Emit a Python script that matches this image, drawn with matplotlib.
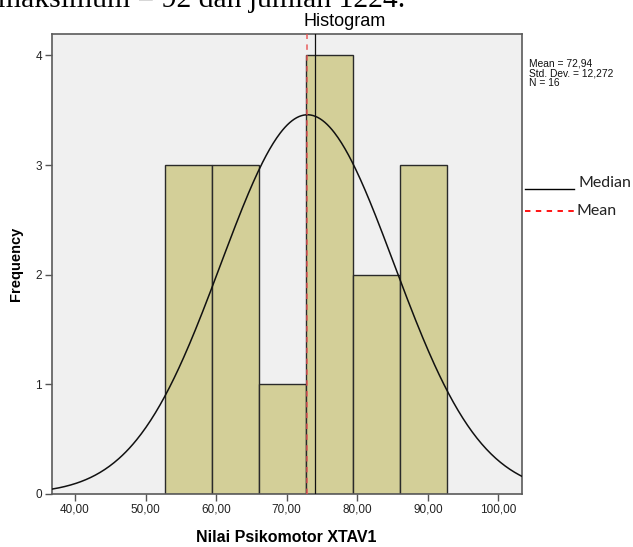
import matplotlib
matplotlib.use("Agg")
import matplotlib.pyplot as plt
import numpy as np
from matplotlib.lines import Line2D

plt.rcParams['font.family'] = ['Liberation Sans', 'DejaVu Sans']

bin_edges = [52.75, 59.4, 66.05, 72.7, 79.35, 86.0, 92.65]
counts = [3, 3, 1, 4, 2, 3]
mean = 72.94
std = 12.272
n = 16
median = 74.0
xticks = [40, 50, 60, 70, 80, 90, 100]
yticks = [0, 1, 2, 3, 4]

fig = plt.figure(figsize=(6.33, 5.47), dpi=100)
W, H = 633, 547

# zone du graphique en pixels -> fractions
left, right, top, bottom = 51.7, 521.7, 33.5, 494.0
ax = fig.add_axes([left / W, 1 - bottom / H, (right - left) / W, (bottom - top) / H])
ax.set_facecolor('#F0F0F0')

widths = np.diff(bin_edges)
ax.bar(bin_edges[:-1], counts, width=widths, align='edge',
       color='#D3CF98', edgecolor='#2a2a2a', linewidth=1.0, zorder=2)

# courbe normale
xlim = (36.7, 103.3)
xs = np.linspace(xlim[0], xlim[1], 400)
binw = widths.mean()
ys = n * binw * np.exp(-0.5 * ((xs - mean) / std) ** 2) / (std * np.sqrt(2 * np.pi))
ax.plot(xs, ys, color='#111111', lw=1.1, zorder=4)

# médiane et moyenne
ax.axvline(median, color='#111111', lw=0.9, zorder=5)
ax.axvline(mean, color='#E85555', lw=1.3, dashes=(3, 3), alpha=0.8, zorder=5)

ax.set_xlim(xlim)
ax.set_ylim(0, 4.2)
ax.set_xticks(xticks)
ax.set_xticklabels([f"{v:.2f}".replace('.', ',') for v in xticks])
ax.set_yticks(yticks)
ax.set_yticklabels([str(v) for v in yticks])
ax.tick_params(axis='both', direction='out', length=5, width=1.0, color='#555555',
               labelsize=8.5, labelcolor='#222222', pad=2)
for s in ax.spines.values():
    s.set_color('#5a5a5a')
    s.set_linewidth(1.2)

ax.set_xlabel('Nilai Psikomotor XTAV1', fontsize=11.5, fontweight='bold', labelpad=10)
ax.set_ylabel('Frequency', fontsize=10.5, fontweight='bold', labelpad=9)

# titre centré sur tout le cadre
fig.text(345 / W, 1 - 22 / H, 'Histogram', ha='center', va='center', fontsize=13)

# texte du document coupé en haut
fig.text(-2 / W, 1 - 7.0 / H, 'maksimum = 92 dan jumlah 1224.', ha='left', va='baseline',
         fontsize=21.3, family=['Liberation Serif'])

# statistiques
fig.text(529 / W, 1 - 59 / H, 'Mean = 72,94\nStd. Dev. = 12,272\nN = 16', ha='left', va='top',
         fontsize=7.4, linespacing=0.95, color='#111111')

# légende à droite
fig.add_artist(Line2D([525 / W, 574 / W], [1 - 189 / H, 1 - 189 / H], color='black', lw=1.0))
fig.add_artist(Line2D([525 / W, 574 / W], [1 - 210.7 / H, 1 - 210.7 / H], color='red', lw=1.3,
                      dashes=(3, 3)))
fig.text(578 / W, 1 - 183 / H, 'Median', ha='left', va='center', fontsize=11.5, family=['Lato'],
         color='#222222')
fig.text(577 / W, 1 - 210.7 / H, 'Mean', ha='left', va='center', fontsize=11.5, family=['Lato'],
         color='#222222')

fig.savefig('out.png', dpi=100)
